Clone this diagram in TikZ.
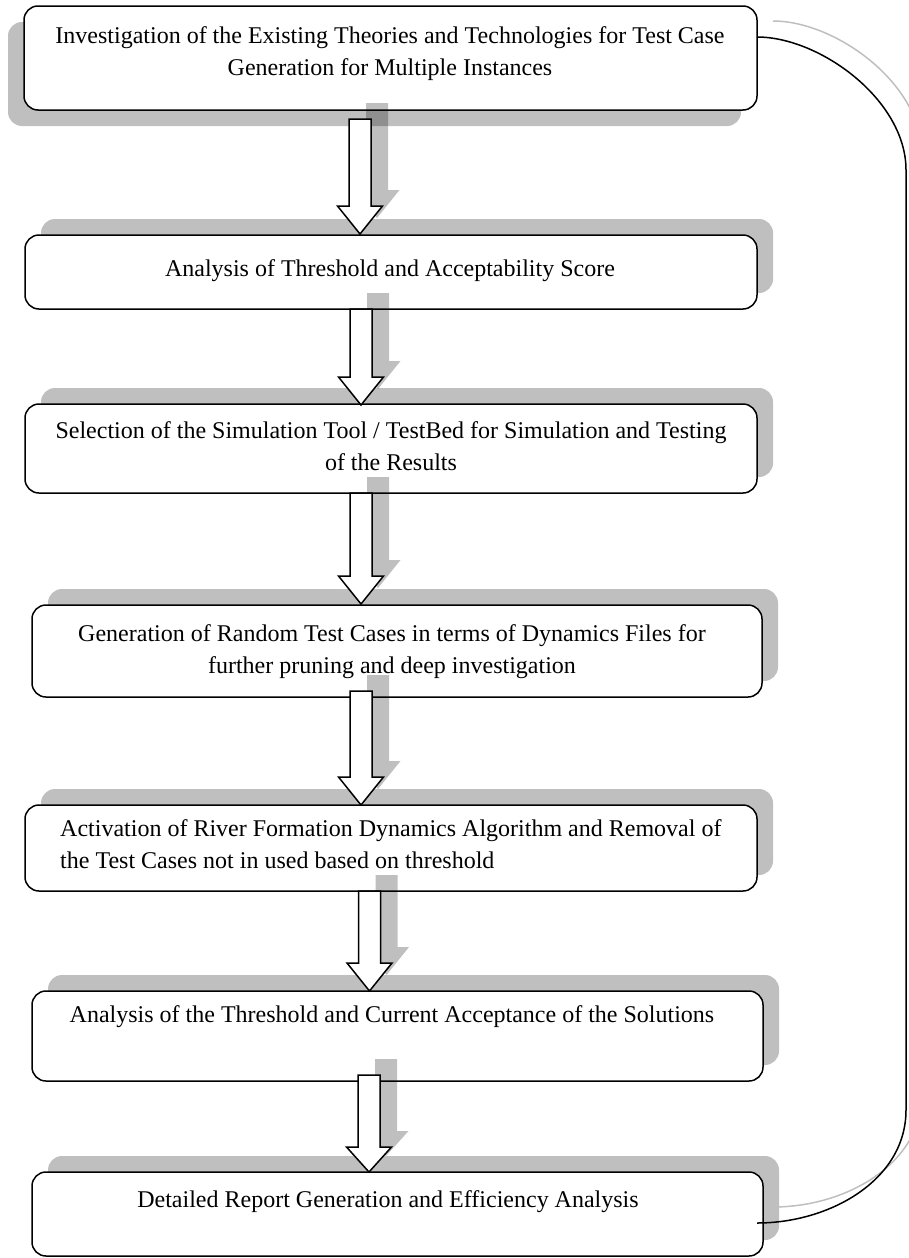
\documentclass[tikz,border=0pt]{standalone}
\usepackage{fontspec}
\setmainfont{Liberation Serif}
\usetikzlibrary{shadows}
\newcommand\blockarrow[4]{% centre x, shaft top, head top, tip
  \fill[ashadow,shift={(17,-16)}] (#1-11,#2) -- (#1+11,#2) -- (#1+11,#3) -- (#1+22.5,#3)
    -- (#1,#4) -- (#1-22.5,#3) -- (#1-11,#3) -- cycle;
  \draw[barrow] (#1-11,#2) -- (#1+11,#2) -- (#1+11,#3) -- (#1+22.5,#3)
    -- (#1,#4) -- (#1-22.5,#3) -- (#1-11,#3) -- cycle;
}
\begin{document}
\begin{tikzpicture}[x=1pt,y=-1pt,
  box/.style={draw=black, line width=1.5pt, fill=white, rounded corners=14pt,
    inner sep=0pt},
  shadowsw/.style={drop shadow={shadow xshift=-16pt, shadow yshift=-16pt,
    fill=black, opacity=0.25}},
  shadowne/.style={drop shadow={shadow xshift=16pt, shadow yshift=16pt,
    fill=black, opacity=0.25}},
  txt/.style={font=\fontsize{24}{32}\selectfont, align=center, inner sep=0pt},
  barrow/.style={draw=black, line width=1.5pt, fill=white, line join=miter},
  ashadow/.style={fill=black, fill opacity=0.25},
  loop/.style={draw=black, line width=1.5pt},
  loopshadow/.style={draw=black!25, line width=1.5pt}]
\useasboundingbox (0,0) rectangle (909,1258);

% process boxes
\node[box, shadowsw, minimum width=733pt, minimum height=104pt] (b1) at (390.5,58) {};
\node[box, shadowne, minimum width=732pt, minimum height=74pt] (b2) at (391,272) {};
\node[box, shadowne, minimum width=732pt, minimum height=89pt] (b3) at (391,448.5) {};
\node[box, shadowne, minimum width=730pt, minimum height=92pt] (b4) at (397,651) {};
\node[box, shadowne, minimum width=732pt, minimum height=86pt] (b5) at (391,848) {};
\node[box, shadowne, minimum width=731pt, minimum height=90pt] (b6) at (397.5,1036) {};
\node[box, shadowne, minimum width=731pt, minimum height=84pt] (b7) at (397.5,1214) {};

% box texts
\node[txt] (t1) at (390,53.5) {Investigation of the Existing Theories and Technologies for Test Case\\Generation for Multiple Instances};
\node[txt] (t2) at (390,271) {Analysis of Threshold and Acceptability Score};
\node[txt] (t3) at (391,446.5) {Selection of the Simulation Tool / TestBed for Simulation and Testing\\of the Results};
\node[txt] (t4) at (392,651.5) {Generation of Random Test Cases in terms of Dynamics Files for\\further pruning and deep investigation};
\node[txt, align=left, anchor=west] (t5) at (60,844.5) {Activation of River Formation Dynamics Algorithm and Removal of\\the Test Cases not in used based on threshold};
\node[txt] (t6) at (392,1017) {Analysis of the Threshold and Current Acceptance of the Solutions};
\node[txt] (t7) at (388,1202) {Detailed Report Generation and Efficiency Analysis};

% block arrows between the steps
\blockarrow{360}{119}{206}{234}
\blockarrow{361}{309}{377}{405}
\blockarrow{361}{493}{576}{604}
\blockarrow{361}{691}{777}{805}
\blockarrow{369.5}{891}{963}{991}
\blockarrow{369}{1075}{1147}{1172}

% feedback line from the last step back to the first
\coordinate (c1) at (757,37);
\coordinate (c2) at (757,1223);
\coordinate (s1) at (773,21);
\coordinate (s2) at (773,1207);
\draw[loopshadow] (s1) .. controls (836,21) and (922,84) .. (922,154)
  -- (922,1094) .. controls (922,1164) and (846,1207) .. (s2);
\draw[loop] (c1) .. controls (820,37) and (906,100) .. (906,170)
  -- (906,1110) .. controls (906,1180) and (830,1223) .. (c2);
\end{tikzpicture}
\end{document}
